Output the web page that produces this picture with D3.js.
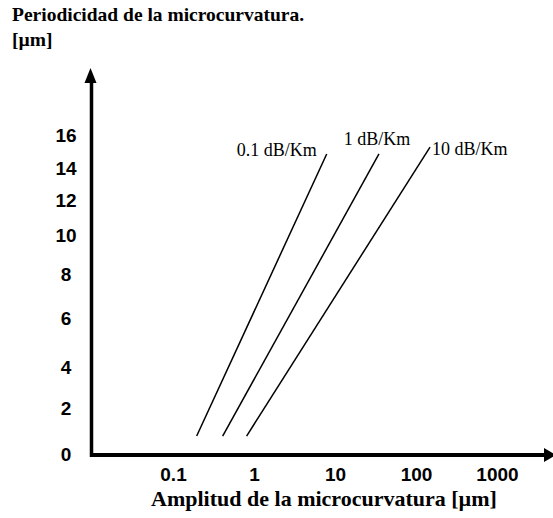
<!DOCTYPE html>
<html>
<head>
<meta charset="utf-8">
<script src="https://cdn.jsdelivr.net/npm/d3@7"></script>
<style>
  body { margin: 0; background: #fff; }
  .tick text { font-family: Arial, "Liberation Sans", sans-serif; font-weight: bold; font-size: 19px; fill: #000; }
  .serifb { font-family: "Times New Roman", "Liberation Serif", serif; font-weight: bold; }
  .serif { font-family: "Times New Roman", "Liberation Serif", serif; }
</style>
</head>
<body>
<div id="chart"></div>
<script>
// tick labels
var xTicks = [0.1, 1, 10, 100, 1000];
var yTicks = [0, 2, 4, 6, 8, 10, 12, 14, 16];

// attenuation curves (start / end of each straight line)
var seriesNames = ["0.1 dB/Km", "1 dB/Km", "10 dB/Km"];
var ampStart = [0.196, 0.41, 0.81];
var ampEnd = [7.9, 34.9, 149];
var perStart = [0.78, 0.78, 0.78];
var perEnd = [14.85, 14.85, 15.27];

var W = 553, H = 518;

var svg = d3.select("#chart")
  .append("svg")
    .attr("width", W)
    .attr("height", H);

// the figure's y scale is not evenly spaced, so map each tick
var y = d3.scaleLinear()
  .domain(yTicks)
  .range([454, 408, 367, 318, 274, 235, 200, 168, 135]);

var x = d3.scaleLog()
  .domain([0.1, 1000])
  .range([173, 497]);

// titles
svg.append("text")
  .attr("class", "serifb")
  .attr("x", 12).attr("y", 21)
  .style("font-size", "19.5px")
  .text("Periodicidad de la microcurvatura.");
svg.append("text")
  .attr("class", "serifb")
  .attr("x", 12).attr("y", 46)
  .style("font-size", "19.5px")
  .text("[µm]");

svg.append("text")
  .attr("class", "serifb")
  .attr("x", 324).attr("y", 506)
  .attr("text-anchor", "middle")
  .style("font-size", "22px")
  .text("Amplitud de la microcurvatura [µm]");

// y axis labels
var gy = svg.append("g")
  .attr("transform", "translate(92,0)")
  .call(d3.axisLeft(y).tickValues(yTicks).tickSize(0).tickFormat(d3.format("d")));
gy.select(".domain").remove();
gy.selectAll("text").attr("x", -26).attr("text-anchor", "middle");

// x axis labels
var gx = svg.append("g")
  .attr("transform", "translate(0,455)")
  .call(d3.axisBottom(x).tickValues(xTicks).tickSize(0).tickPadding(13)
    .tickFormat(function (d) { return d < 1 ? "0.1" : d3.format("d")(d); }));
gx.select(".domain").remove();

// axis lines with arrows
svg.append("line")
  .attr("x1", 91.5).attr("y1", 457)
  .attr("x2", 91.5).attr("y2", 80)
  .attr("stroke", "#000").attr("stroke-width", 3.5);
svg.append("path")
  .attr("d", "M90.5,68 L84.5,83 L96.5,83 Z")
  .attr("fill", "#000");

svg.append("line")
  .attr("x1", 90).attr("y1", 455)
  .attr("x2", 546).attr("y2", 455)
  .attr("stroke", "#000").attr("stroke-width", 4);
svg.append("path")
  .attr("d", "M556,455 L544,448 L544,462 Z")
  .attr("fill", "#000");

// attenuation lines
var lines = seriesNames.map(function (name, i) {
  return { name: name, a0: ampStart[i], a1: ampEnd[i], p0: perStart[i], p1: perEnd[i] };
});

svg.selectAll(".att")
  .data(lines)
  .enter()
  .append("line")
    .attr("class", "att")
    .attr("x1", function (d) { return x(d.a0); })
    .attr("y1", function (d) { return y(d.p0); })
    .attr("x2", function (d) { return x(d.a1); })
    .attr("y2", function (d) { return y(d.p1); })
    .attr("stroke", "#000")
    .attr("stroke-width", 1.5);

// line labels
var lab = [
  { dx: -10, dy: 2, anchor: "end" },
  { dx: -2, dy: -9, anchor: "middle" },
  { dx: 2, dy: 8, anchor: "start" }
];
svg.selectAll(".lab")
  .data(lines)
  .enter()
  .append("text")
    .attr("class", "serif")
    .attr("x", function (d, i) { return x(d.a1) + lab[i].dx; })
    .attr("y", function (d, i) { return y(d.p1) + lab[i].dy; })
    .attr("text-anchor", function (d, i) { return lab[i].anchor; })
    .style("font-size", "18px")
    .text(function (d) { return d.name; });
</script>
</body>
</html>
